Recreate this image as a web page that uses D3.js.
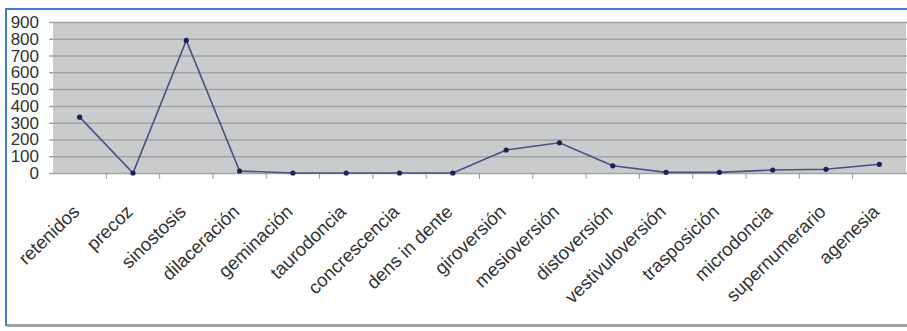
<!DOCTYPE html>
<html>
<head>
<meta charset="utf-8">
<script src="https://cdn.jsdelivr.net/npm/d3@7"></script>
<style>
  html, body { margin: 0; padding: 0; background: #ffffff; }
  svg { display: block; }
</style>
</head>
<body>
<svg id="chart" width="907" height="331"></svg>
<script>
// Dental anomaly counts per category
const categories = [
  "retenidos", "precoz", "sinostosis", "dilaceración", "geminación",
  "taurodoncia", "concrescencia", "dens in dente", "giroversión",
  "mesioversión", "distoversión", "vestivuloversión", "trasposición",
  "microdoncia", "supernumerario", "agenesia"
];
const counts = [333, 0, 790, 12, 0, 0, 0, 0, 137, 180, 43, 4, 4, 18, 22, 52];
const yTicks = [0, 100, 200, 300, 400, 500, 600, 700, 800, 900];

const svg = d3.select("#chart");
const W = 907, H = 331;
const plot = { left: 53, right: 906, top: 22, bottom: 173 };
const font = "'Liberation Sans', Arial, sans-serif";

// frame: blue left/top edges, gray bottom rule
svg.append("line").attr("x1", 6).attr("x2", 6).attr("y1", 8).attr("y2", 326)
  .attr("stroke", "#3d7fd0").attr("stroke-width", 2);
svg.append("line").attr("x1", 5).attr("x2", W).attr("y1", 9).attr("y2", 9)
  .attr("stroke", "#3d7fd0").attr("stroke-width", 2);
svg.append("line").attr("x1", 7).attr("x2", W).attr("y1", 325.5).attr("y2", 325.5)
  .attr("stroke", "#a3a3a3").attr("stroke-width", 3);

const x = d3.scaleBand().domain(categories).range([plot.left, plot.right]).padding(0);
const y = d3.scaleLinear().domain([0, 900]).range([plot.bottom, plot.top]);
const cx = d => x(d) + x.bandwidth() / 2;

// plot area
svg.append("rect")
  .attr("x", plot.left).attr("y", plot.top)
  .attr("width", plot.right - plot.left).attr("height", plot.bottom - plot.top)
  .attr("fill", "#cacbcd");

// horizontal gridlines + y axis labels
const yAxis = d3.axisLeft(y).tickValues(yTicks)
  .tickSize(-(plot.right - plot.left) - 4).tickPadding(8);
const gy = svg.append("g").attr("transform", `translate(${plot.left - 4},0)`).call(yAxis);
gy.select(".domain").remove();
gy.selectAll(".tick line")
  .attr("transform", "translate(4,0)")
  .attr("x1", -4)
  .attr("stroke", "#a2a3a5").attr("stroke-width", 1.5);
gy.selectAll(".tick text")
  .attr("font-family", font).attr("font-size", 17).attr("fill", "#333")
  .attr("x", -10);

// x axis tick marks at category boundaries
const bounds = categories.slice(1).map(c => x(c));
svg.append("g").selectAll("line").data(bounds).join("line")
  .attr("x1", d => d).attr("x2", d => d)
  .attr("y1", plot.bottom).attr("y2", plot.bottom + 6)
  .attr("stroke", "#9a9a9a").attr("stroke-width", 1);

// rotated category labels
svg.append("g").selectAll("text").data(categories).join("text")
  .attr("transform", d => `translate(${cx(d) + 1},${plot.bottom + 40}) rotate(-44)`)
  .attr("text-anchor", "end")
  .attr("font-family", font).attr("font-size", 18.5).attr("fill", "#333")
  .text(d => d);

// series line
const line = d3.line().x((d, i) => cx(categories[i])).y(d => y(d));
svg.append("path").datum(counts)
  .attr("d", line)
  .attr("fill", "none").attr("stroke", "#4a5084").attr("stroke-width", 1.6);

// markers
svg.append("g").selectAll("circle").data(counts).join("circle")
  .attr("cx", (d, i) => cx(categories[i]))
  .attr("cy", d => y(d))
  .attr("r", 2.6)
  .attr("fill", "#1b2160");
</script>
</body>
</html>
